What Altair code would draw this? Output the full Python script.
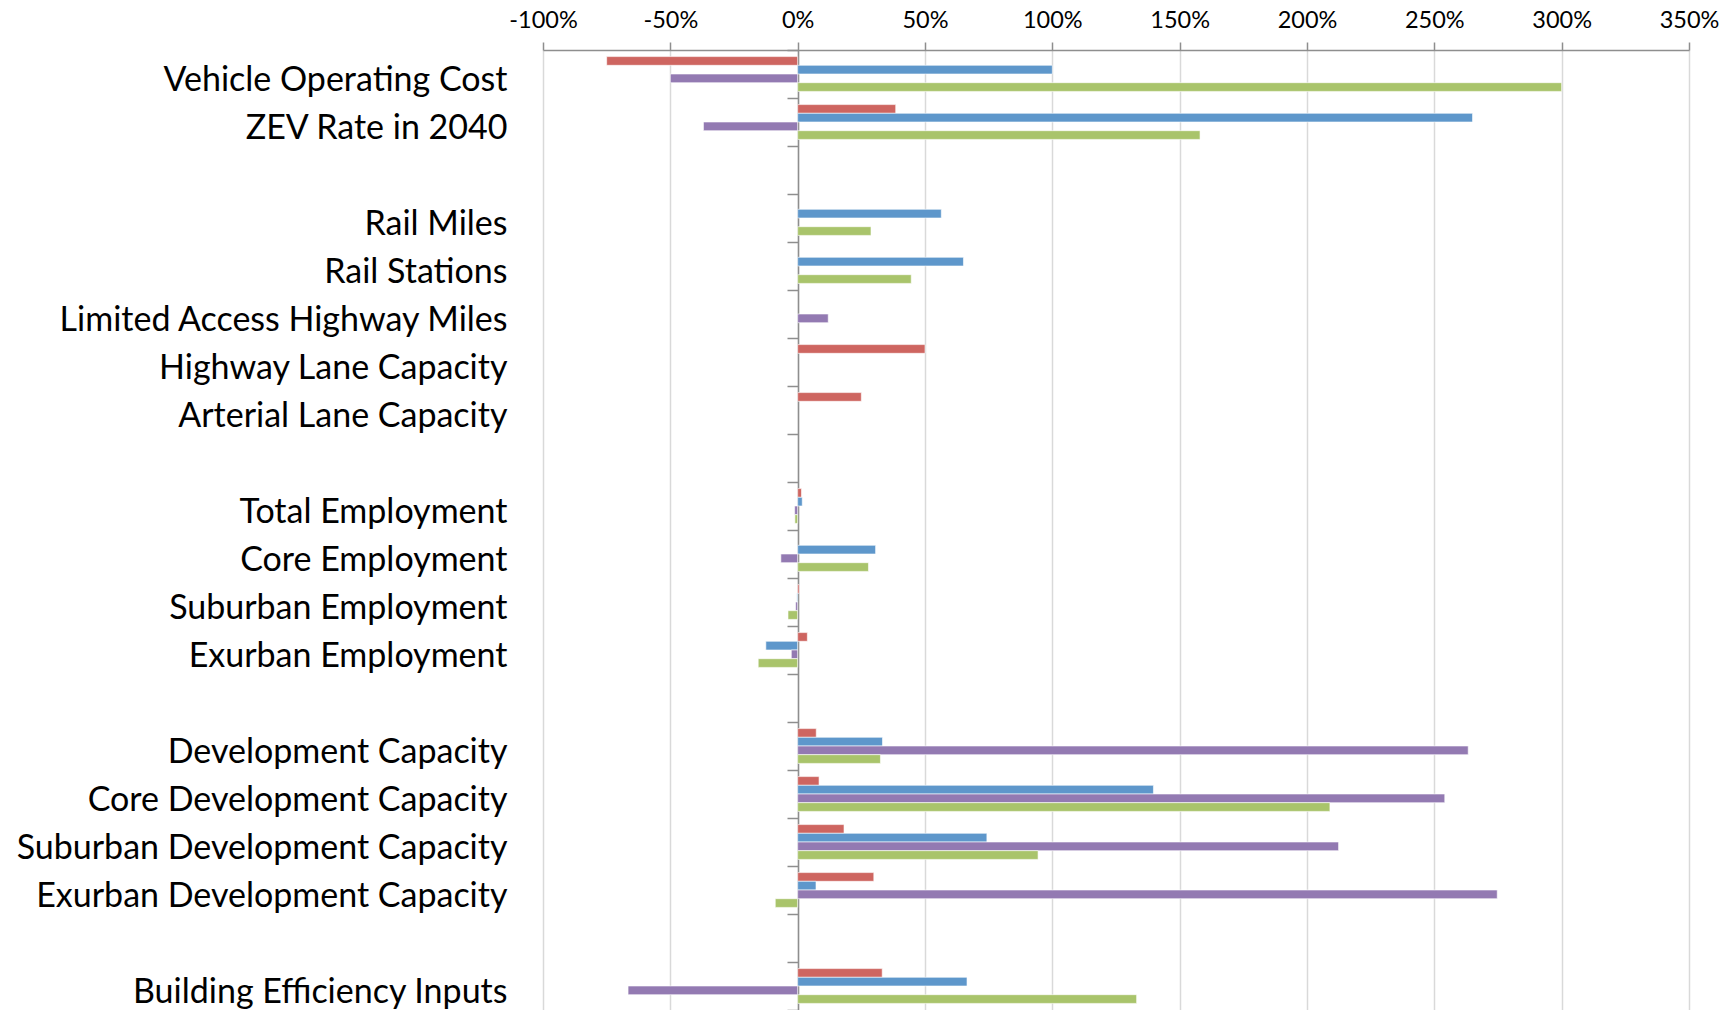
import altair as alt
import pandas as pd

# Row labels, top to bottom; blank strings are spacer rows between groups
categories = [
    "Vehicle Operating Cost",
    "ZEV Rate in 2040",
    " ",
    "Rail Miles",
    "Rail Stations",
    "Limited Access Highway Miles",
    "Highway Lane Capacity",
    "Arterial Lane Capacity",
    "  ",
    "Total Employment",
    "Core Employment",
    "Suburban Employment",
    "Exurban Employment",
    "   ",
    "Development Capacity",
    "Core Development Capacity",
    "Suburban Development Capacity",
    "Exurban Development Capacity",
    "    ",
    "Building Efficiency Inputs",
]

series_names = ["Series 1", "Series 2", "Series 3", "Series 4"]
series_colors = ["#CE6560", "#5E97CB", "#937AB2", "#A9C46B"]

# Percent change per row (None = no bar)
series_1 = [-75, 38.5, None, None, None, None, 50, 25, None,
            1.5, None, 0.6, 3.8, None, 7.3, 8.4, 18.2, 29.9, None, 33.2]
series_2 = [100, 265, None, 56.4, 65.1, None, None, None, None,
            1.8, 30.6, -0.3, -12.5, None, 33.3, 139.7, 74.3, 7.2, None, 66.5]
series_3 = [-50, -37, None, None, None, 12, None, None, None,
            -1.2, -6.6, -0.8, -2.5, None, 263.3, 254.1, 212.4, 274.7, None, -66.6]
series_4 = [300, 158, None, 28.8, 44.6, None, None, None, None,
            -1.1, 27.8, -3.8, -15.5, None, 32.5, 209, 94.4, -8.8, None, 133.1]

x_ticks = [-100, -50, 0, 50, 100, 150, 200, 250, 300, 350]

rows = []
for name, values in zip(series_names, [series_1, series_2, series_3, series_4]):
    for cat, v in zip(categories, values):
        if v is not None:
            rows.append({"category": cat, "series": name, "value": v})
df = pd.DataFrame(rows)

axis_gray = "#8E8E8E"

chart = (
    alt.Chart(df)
    .mark_bar(stroke="white", strokeWidth=0.6)
    .encode(
        x=alt.X(
            "value:Q",
            scale=alt.Scale(domain=[-100, 350], nice=False, zero=False),
            axis=alt.Axis(
                orient="top",
                values=x_ticks,
                labelExpr="datum.value + '%'",
                labelFlush=False,
                title=None,
                grid=True,
                gridColor="#D9D9D9",
                gridWidth=1.5,
                domainColor=axis_gray,
                domainWidth=1.5,
                tickColor=axis_gray,
                tickWidth=1.5,
                tickSize=8,
                labelFont="Lato",
                labelFontSize=23.5,
                labelColor="#000000",
                labelPadding=10,
            ),
        ),
        y=alt.Y(
            "category:N",
            sort=categories,
            scale=alt.Scale(domain=categories, paddingInner=0, paddingOuter=0),
            axis=alt.Axis(
                orient="left",
                title=None,
                grid=False,
                offset=-255,
                domainColor=axis_gray,
                domainWidth=1.5,
                tickColor=axis_gray,
                tickWidth=1.5,
                tickSize=11,
                tickBand="extent",
                labelFont="Lato",
                labelFontSize=34,
                labelColor="#000000",
                labelPadding=280,
                labelLimit=600,
                labelOffset=6,
            ),
        ),
        yOffset=alt.YOffset(
            "series:N",
            sort=series_names,
            scale=alt.Scale(domain=series_names, paddingInner=0, paddingOuter=0.76),
        ),
        color=alt.Color(
            "series:N",
            scale=alt.Scale(domain=series_names, range=series_colors),
            legend=None,
        ),
    )
    .properties(
        width=1146,
        height=960,
        autosize=alt.AutoSizeParams(type="none"),
        padding={"left": 543, "top": 50, "right": 33, "bottom": 0},
        background="white",
    )
    .configure_view(stroke=None)
)

chart.save("out.html", embed_options={"renderer": "svg", "actions": False})
